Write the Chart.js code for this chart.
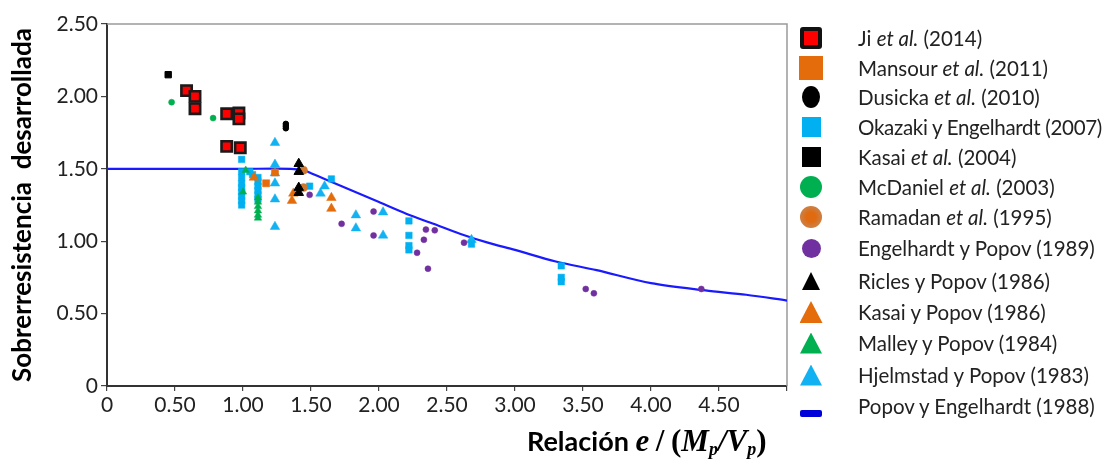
<!DOCTYPE html>
<html>
<head>
<meta charset="utf-8">
<script src="https://cdn.jsdelivr.net/npm/chart.js@4/dist/chart.umd.min.js"></script>
<style>
  html, body { margin:0; padding:0; background:#fff; }
  #wrap { position:relative; width:1114px; height:459px; overflow:hidden; font-family:Lato, 'Noto Sans', sans-serif; }
  #c { position:absolute; left:0; top:0; }
  .lg { position:absolute; left:0; height:30px; width:330px; }
  .mk { position:absolute; box-sizing:border-box; }
  .tx { position:absolute; left:68px; font-size:20.5px; color:#222; white-space:nowrap; line-height:24px; }
  #xt { position:absolute; left:527px; top:424px; white-space:nowrap; color:#000; font-size:27px; font-weight:bold; line-height:34px; }
  #xt .s { font-family:'Liberation Serif', 'DejaVu Serif', serif; font-style:italic; font-size:31px; }
  #xt sub { font-size:18px; vertical-align:-4px; }
</style>
</head>
<body>
<div id="wrap">
  <canvas id="c" width="1114" height="459"></canvas>
  <div id="legend"></div>
  <div id="xt">Relación <span class="s">e</span> <span class="s" style="font-style:normal">/</span> <span class="s" style="font-style:normal">(</span><span class="s">M<sub>p</sub>/V<sub>p</sub></span><span class="s" style="font-style:normal">)</span></div>
</div>
<script>
// ---- data ----
const xTicks = [0, 0.5, 1.0, 1.5, 2.0, 2.5, 3.0, 3.5, 4.0, 4.5];
const yTicks = [0, 0.5, 1.0, 1.5, 2.0, 2.5];

const jiX = [0.585, 0.647, 0.647, 0.88, 0.97, 0.97, 0.88, 0.98];
const jiY = [2.04, 2.00, 1.915, 1.88, 1.885, 1.845, 1.655, 1.645];

const mansourX = [1.17, 1.235];
const mansourY = [1.40, 1.475];

const dusickaX = [1.315, 1.315, 1.315];
const dusickaY = [1.81, 1.795, 1.78];

const okazakiX = [0.99, 0.99, 0.99, 0.99, 0.99, 0.99, 0.99, 0.99, 0.99, 1.05, 1.07, 1.11, 1.11, 1.11, 1.11, 1.11, 1.11, 1.49, 1.65, 2.22, 2.22, 2.22, 2.22, 2.68, 3.34, 3.34, 3.34];
const okazakiY = [1.565, 1.48, 1.44, 1.40, 1.37, 1.34, 1.31, 1.28, 1.25, 1.48, 1.46, 1.44, 1.41, 1.38, 1.35, 1.32, 1.29, 1.38, 1.43, 1.14, 1.04, 0.97, 0.94, 0.98, 0.83, 0.75, 0.72];

const kasai04X = [0.45];
const kasai04Y = [2.15];

const mcdanielX = [0.475, 0.78];
const mcdanielY = [1.96, 1.85];

const ramadanX = [1.445, 1.445];
const ramadanY = [1.49, 1.37];

const engelX = [1.49, 1.725, 1.96, 1.96, 2.345, 2.41, 2.33, 2.28, 2.36, 2.625, 3.52, 3.58, 4.37];
const engelY = [1.32, 1.12, 1.205, 1.04, 1.08, 1.075, 1.01, 0.92, 0.81, 0.99, 0.67, 0.64, 0.67];

const riclesX = [1.41, 1.41, 1.41, 1.41];
const riclesY = [1.535, 1.48, 1.37, 1.335];

const kasaiPopX = [1.08, 1.37, 1.36, 1.65, 1.65];
const kasaiPopY = [1.44, 1.33, 1.28, 1.30, 1.225];

const malleyX = [1.02, 1.0, 1.11, 1.11, 1.11, 1.11, 1.11, 1.11];
const malleyY = [1.49, 1.34, 1.30, 1.27, 1.24, 1.21, 1.18, 1.16];

const hjelX = [1.235, 1.235, 1.235, 1.235, 1.235, 1.235, 1.60, 1.57, 1.83, 1.83, 2.03, 2.03, 2.68];
const hjelY = [1.68, 1.53, 1.47, 1.40, 1.29, 1.10, 1.38, 1.33, 1.18, 1.09, 1.20, 1.04, 1.01];

const popovX = [0, 1.0, 1.35, 1.45, 1.5, 1.6, 1.8, 2.0, 2.2, 2.4, 2.6, 2.8, 3.0, 3.3, 3.6, 4.0, 4.4, 4.7, 5.0];
const popovY = [1.5, 1.5, 1.5, 1.49, 1.47, 1.43, 1.35, 1.27, 1.19, 1.12, 1.05, 0.99, 0.94, 0.86, 0.80, 0.71, 0.66, 0.63, 0.59];

const legendLabels = [
  ['Ji ', '<i>et al.</i>', ' (2014)'],
  ['Mansour ', '<i>et al.</i>', ' (2011)'],
  ['Dusicka ', '<i>et al.</i>', ' (2010)'],
  ['Okazaki y Engelhardt (2007)'],
  ['Kasai ', '<i>et al.</i>', ' (2004)'],
  ['McDaniel ', '<i>et al.</i>', ' (2003)'],
  ['Ramadan ', '<i>et al.</i>', ' (1995)'],
  ['Engelhardt y Popov (1989)'],
  ['Ricles y Popov (1986)'],
  ['Kasai y Popov (1986)'],
  ['Malley y Popov (1984)'],
  ['Hjelmstad y Popov (1983)'],
  ['Popov y Engelhardt (1988)']
];

// ---- build ----
const pts = (xs, ys) => xs.map((x, i) => ({x, y: ys[i]}));
const fmt = v => v === 0 ? '0' : v.toFixed(2);

function ds(label, xs, ys, style, r, bg, bc, bw) {
  return { label, data: pts(xs, ys), pointStyle: style, pointRadius: r, pointHoverRadius: r,
    backgroundColor: bg, borderColor: bc, pointBorderWidth: bw, borderWidth: bw, showLine: false };
}

const datasets = [
  ds('Ji et al. (2014)', jiX, jiY, 'rect', 7.3, '#ff0000', '#1a1a1a', 2.6),
  ds('Kasai et al. (2004)', kasai04X, kasai04Y, 'rect', 4.5, '#000', '#000', 1),
  ds('Dusicka et al. (2010)', dusickaX, dusickaY, 'circle', 2.8, '#000', '#000', 1),
  ds('McDaniel et al. (2003)', mcdanielX, mcdanielY, 'circle', 3, '#00b050', '#00b050', 0.5),
  ds('Ricles y Popov (1986)', riclesX, riclesY, 'triangle', 5.5, '#000', '#000', 1),
  ds('Engelhardt y Popov (1989)', engelX, engelY, 'circle', 3, '#7030a0', '#7030a0', 0.5),
  ds('Ramadan et al. (1995)', ramadanX, ramadanY, 'circle', 4, '#d0772f', '#d0772f', 0.5),
  ds('Mansour et al. (2011)', mansourX, mansourY, 'rect', 5, '#e46c0a', '#e46c0a', 0.5),
  ds('Kasai y Popov (1986)', kasaiPopX, kasaiPopY, 'triangle', 5.5, '#e46c0a', '#e46c0a', 0.5),
  ds('Malley y Popov (1984)', malleyX, malleyY, 'triangle', 4.3, '#00b050', '#00b050', 0.5),
  ds('Okazaki y Engelhardt (2007)', okazakiX, okazakiY, 'rect', 4.6, '#00b0f0', '#00b0f0', 0.5),
  ds('Hjelmstad y Popov (1983)', hjelX, hjelY, 'triangle', 5.5, '#12b2f2', '#12b2f2', 0.5),
  { label: 'Popov y Engelhardt (1988)', type: 'line', data: pts(popovX, popovY), borderColor: '#1a1aff',
    borderWidth: 2.2, pointRadius: 0, fill: false, tension: 0.3, order: 100 }
];

const frame = {
  id: 'frame',
  beforeDatasetsDraw(chart) {
    const {ctx, chartArea: a} = chart;
    ctx.save();
    ctx.strokeStyle = '#9a9a9a';
    ctx.lineWidth = 1.5;
    ctx.beginPath();
    ctx.moveTo(a.left, a.top); ctx.lineTo(a.right, a.top); ctx.lineTo(a.right, a.bottom);
    ctx.stroke();
    ctx.restore();
  }
};

new Chart(document.getElementById('c'), {
  type: 'scatter',
  data: { datasets },
  options: {
    responsive: false,
    animation: false,
    layout: { padding: { left: 0, top: 24, right: 327, bottom: 0 } },
    plugins: { legend: { display: false }, tooltip: { enabled: false } },
    scales: {
      x: {
        type: 'linear', min: 0, max: 5,
        afterBuildTicks: s => { s.ticks = xTicks.concat([5]).map(v => ({value: v})); },
        afterFit: s => { s.height = 73; },
        ticks: { callback: v => (v >= 5 ? '' : fmt(v)), font: { family: 'Lato', size: 21 }, color: '#222', padding: 2, maxRotation: 0, autoSkip: false },
        grid: { drawOnChartArea: false, tickLength: 5, color: '#444', lineWidth: 1.2 },
        border: { color: '#333', width: 2 }
      },
      y: {
        type: 'linear', min: 0, max: 2.5,
        afterBuildTicks: s => { s.ticks = yTicks.map(v => ({value: v})); },
        afterFit: s => { s.width = 107; },
        ticks: { callback: v => fmt(v), font: { family: 'Lato', size: 21 }, color: '#222', padding: 3 },
        grid: { drawOnChartArea: false, tickLength: 6, color: '#444', lineWidth: 1.2 },
        border: { color: '#333', width: 2 },
        title: { display: true, text: 'Sobrerresistencia  desarrollada', color: '#000',
          font: { family: 'Lato', size: 26, weight: 'bold' }, padding: { top: 7, bottom: 0 } }
      }
    }
  },
  plugins: [frame]
});

// ---- legend (HTML) ----
const markers = [
  {w:22,h:22,css:'background:#ff0000;border:4px solid #111;border-radius:3px;'},
  {w:24,h:24,css:'background:#e46c0a;'},
  {w:18,h:22,css:'background:#000;border-radius:50%;'},
  {w:19,h:20,css:'background:#00b0f0;'},
  {w:19,h:20,css:'background:#000;'},
  {w:22,h:22,css:'background:#00b050;border-radius:50%;'},
  {w:22,h:22,css:'background:radial-gradient(circle,#e06a10 0,#e06a10 30%,#cf7c3c 60%);border-radius:50%;'},
  {w:19,h:19,css:'background:#7030a0;border-radius:50%;'},
  {w:18,h:18,css:'background:#000;clip-path:polygon(50% 0,100% 100%,0 100%);'},
  {w:23,h:22,css:'background:#e46c0a;clip-path:polygon(50% 0,100% 100%,0 100%);'},
  {w:22,h:21,css:'background:#00b050;clip-path:polygon(50% 0,100% 100%,0 100%);'},
  {w:22,h:21,css:'background:#12b2f2;clip-path:polygon(50% 0,100% 100%,0 100%);'},
  {w:22,h:7,css:'background:#0000d8;border-radius:2px;'}
];
const rowY = [38, 68, 97, 127, 157, 187, 217, 248, 281, 312, 343, 375, 406];
const lg = document.getElementById('legend');
legendLabels.forEach((parts, i) => {
  const row = document.createElement('div');
  row.className = 'lg';
  row.style.left = '790px';
  row.style.top = (rowY[i] - 15) + 'px';
  const m = markers[i];
  const mk = document.createElement('div');
  mk.className = 'mk';
  const cy = i === 12 ? 22.5 : 15;
  mk.style.cssText = `width:${m.w}px;height:${m.h}px;left:${21 - m.w/2}px;top:${cy - m.h/2}px;` + m.css;
  row.appendChild(mk);
  const tx = document.createElement('div');
  tx.className = 'tx';
  tx.style.top = '3px';
  if (i === 3) tx.style.letterSpacing = '-0.3px';
  tx.innerHTML = parts.join('');
  row.appendChild(tx);
  lg.appendChild(row);
});
</script>
</body>
</html>
